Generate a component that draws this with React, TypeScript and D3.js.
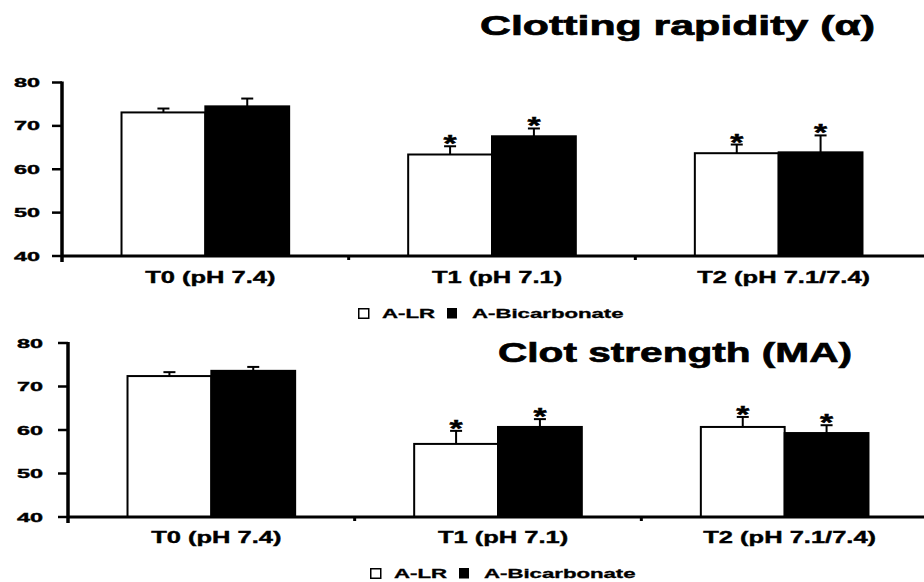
import React from "react";
import * as d3 from "d3";

const categories = ["T0 (pH 7.4)", "T1 (pH 7.1)", "T2 (pH 7.1/7.4)"];
const seriesNames = ["A-LR", "A-Bicarbonate"];
const yTicks = [40, 50, 60, 70, 80];

const alphaLR = [73.1, 63.4, 63.7];
const alphaLRErr = [0.9, 1.9, 2.0];
const alphaBic = [74.5, 67.6, 63.9];
const alphaBicErr = [1.8, 1.8, 3.9];
const alphaSig = [false, true, true];

const maLR = [72.4, 56.8, 60.7];
const maLRErr = [0.9, 3.0, 2.3];
const maBic = [73.6, 60.7, 59.3];
const maBicErr = [0.9, 1.8, 1.8];
const maSig = [false, true, true];

const FONT = "'Liberation Sans', Arial, Helvetica, sans-serif";

type PanelProps = {
  xRange: [number, number];
  yRange: [number, number];
  title: string;
  titleX: number;
  titleY: number;
  titleW: number;
  labelY: number;
  legendX: number;
  legendY: number;
  tickLabelX: number;
  lr: number[];
  lrErr: number[];
  bic: number[];
  bicErr: number[];
  sig: boolean[];
};

function Panel(p: PanelProps) {
  const x0 = d3.scaleBand<string>().domain(categories).range(p.xRange).padding(0);
  const x1 = d3
    .scaleBand<string>()
    .domain(seriesNames)
    .range([0, x0.bandwidth()])
    .paddingInner(0)
    .paddingOuter(0.71);
  const y = d3.scaleLinear().domain([40, 80]).range(p.yRange);
  const axisX = p.xRange[0];
  const axisY = y(40);
  const values = [p.lr, p.bic];
  const errs = [p.lrErr, p.bicErr];
  const capW = 12;

  return (
    <g>
      <text
        x={p.titleX}
        y={p.titleY}
        textLength={p.titleW}
        lengthAdjust="spacingAndGlyphs"
        fontSize={28}
        fontWeight="bold"
        fontFamily={FONT}
        fill="#000"
        stroke="#000"
        strokeWidth={0.7}
      >
        {p.title}
      </text>

      {categories.map((c, ci) =>
        seriesNames.map((s, si) => {
          const v = values[si][ci];
          const e = errs[si][ci];
          const bx = (x0(c) as number) + (x1(s) as number);
          const bw = x1.bandwidth();
          const cx = bx + bw / 2;
          const top = y(v);
          const et = y(v + e);
          return (
            <g key={c + s}>
              <rect
                x={bx}
                y={top}
                width={bw}
                height={axisY - top}
                fill={si === 0 ? "#fff" : "#000"}
                stroke="#000"
                strokeWidth={2}
              />
              <line x1={cx} x2={cx} y1={top} y2={et} stroke="#000" strokeWidth={2} />
              <line x1={cx - capW / 2} x2={cx + capW / 2} y1={et} y2={et} stroke="#000" strokeWidth={2} />
              {p.sig[ci] && (
                <text
                  transform={`translate(${cx},${et + 6}) scale(1.4,1)`}
                  textAnchor="middle"
                  fontSize={24}
                  fontWeight="bold"
                  fontFamily={FONT}
                  stroke="#000"
                  strokeWidth={0.5}
                >
                  *
                </text>
              )}
            </g>
          );
        })
      )}

      {/* x axis */}
      <line x1={axisX} x2={924} y1={axisY} y2={axisY} stroke="#000" strokeWidth={3} />
      {categories.slice(1).map((c) => (
        <line
          key={"bt" + c}
          x1={x0(c) as number}
          x2={x0(c) as number}
          y1={axisY}
          y2={axisY + 4}
          stroke="#000"
          strokeWidth={3}
        />
      ))}
      {categories.map((c) => (
        <text
          key={"cl" + c}
          transform={`translate(${(x0(c) as number) + x0.bandwidth() / 2 + 5},${p.labelY}) scale(1.5,1)`}
          textAnchor="middle"
          fontSize={17}
          fontWeight="bold"
          fontFamily={FONT}
          stroke="#000"
          strokeWidth={0.4}
        >
          {c}
        </text>
      ))}

      {/* y axis */}
      <line x1={axisX} x2={axisX} y1={y(80) - 1} y2={axisY + 6} stroke="#000" strokeWidth={3.5} />
      {yTicks.map((t) => (
        <g key={"yt" + t}>
          <line x1={axisX - 10} x2={axisX} y1={y(t)} y2={y(t)} stroke="#000" strokeWidth={2.5} />
          <text
            transform={`translate(${p.tickLabelX},${y(t) + 4.5}) scale(1.8,1)`}
            textAnchor="end"
            fontSize={13}
            fontWeight="bold"
            fontFamily={FONT}
            stroke="#000"
            strokeWidth={0.4}
          >
            {t}
          </text>
        </g>
      ))}

      {/* legend */}
      <g transform={`translate(${p.legendX},${p.legendY})`}>
        <rect x={0.75} y={-9.25} width={10} height={9.5} fill="#fff" stroke="#000" strokeWidth={1.5} />
        <text
          transform="translate(24,0) scale(1.85,1)"
          fontSize={12}
          fontWeight="bold"
          fontFamily={FONT}
          stroke="#000"
          strokeWidth={0.3}
        >
          {seriesNames[0]}
        </text>
        <rect x={89} y={-10} width={10} height={10.5} fill="#000" />
        <text
          transform="translate(114,0) scale(1.85,1)"
          fontSize={12}
          fontWeight="bold"
          fontFamily={FONT}
          stroke="#000"
          strokeWidth={0.3}
        >
          {seriesNames[1]}
        </text>
      </g>
    </g>
  );
}

export default function App() {
  return (
    <svg
      width={924}
      height={582}
      style={{ position: "absolute", left: 0, top: 0, display: "block", background: "#fff" }}
    >
      <rect x={0} y={0} width={924} height={582} fill="#fff" />
      <Panel
        xRange={[62, 922]}
        yRange={[256, 82.5]}
        title="Clotting rapidity (α)"
        titleX={480}
        titleY={35}
        titleW={395}
        labelY={283}
        legendX={358}
        legendY={318}
        tickLabelX={40}
        lr={alphaLR}
        lrErr={alphaLRErr}
        bic={alphaBic}
        bicErr={alphaBicErr}
        sig={alphaSig}
      />
      <Panel
        xRange={[68, 928]}
        yRange={[517, 343]}
        title="Clot strength (MA)"
        titleX={498}
        titleY={362}
        titleW={354}
        labelY={543}
        legendX={370}
        legendY={578}
        tickLabelX={43}
        lr={maLR}
        lrErr={maLRErr}
        bic={maBic}
        bicErr={maBicErr}
        sig={maSig}
      />
    </svg>
  );
}
